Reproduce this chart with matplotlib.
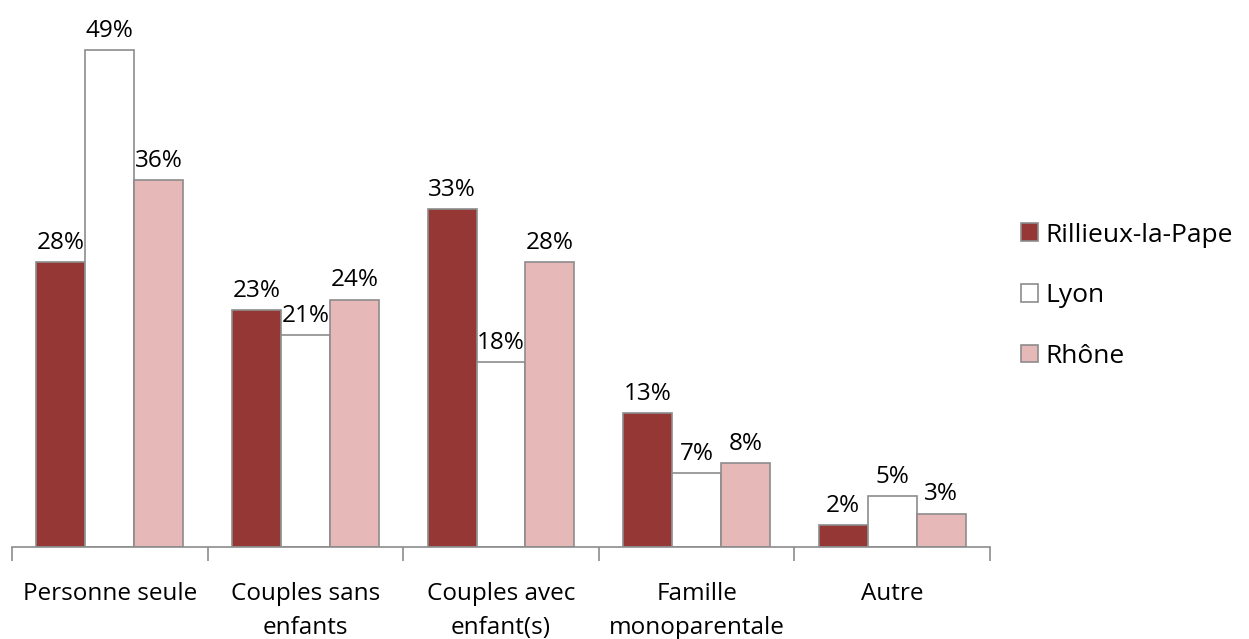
import numpy as np
import matplotlib.pyplot as plt

## Data
categories = ["Personne seule", "Couples sans\nenfants", "Couples avec\nenfant(s)",
              "Famille\nmonoparentale", "Autre"]
rillieux = [28.1, 23.4, 33.3, 13.2, 2.2]
lyon     = [49.0, 20.9, 18.2, 7.3, 5.0]
rhone    = [36.2, 24.4, 28.1, 8.3, 3.3]
series_names = ["Rillieux-la-Pape", "Lyon", "Rhône"]

colors = ["#953735", "#FFFFFF", "#E6B9B8"]
edge = "#8C8C8C"

plt.rcParams['font.family'] = ['Open Sans', 'DejaVu Sans']

fig = plt.figure(figsize=(12.49, 6.39), dpi=100)
ax = fig.add_axes([12/1249, 1-547/639, (990-12)/1249, (547-40)/639])

x = np.arange(len(categories))
w = 0.25
for i, (vals, name, c) in enumerate(zip([rillieux, lyon, rhone], series_names, colors)):
	bars = ax.bar(x + (i-1)*w, vals, w, color=c, edgecolor=edge, linewidth=1.2, label=name)
	for b, v in zip(bars, vals):
		ax.text(b.get_x()+b.get_width()/2, v+0.7, "%.0f%%" % v,
			ha="center", va="bottom", fontsize=17.5, color="black")

## Axes
ax.set_xlim(-0.5, len(categories)-0.5)
ax.set_ylim(0, 50)
for s in ["left", "right", "top"]:
	ax.spines[s].set_visible(False)
ax.spines["bottom"].set_color(edge)
ax.spines["bottom"].set_linewidth(1.2)
ax.set_yticks([])

ax.set_xticks(np.arange(len(categories)+1)-0.5)
ax.set_xticklabels([])
ax.tick_params(axis="x", which="major", length=10, color=edge, width=1.2)
ax.set_xticks(x, minor=True)
ax.set_xticklabels(categories, minor=True, fontsize=17.5, linespacing=1.55)
ax.tick_params(axis="x", which="minor", length=0, pad=25)

## Legend
leg = fig.legend(loc="upper left", bbox_to_anchor=(1010/1249, 1-212/639),
	frameon=False, fontsize=19, labelspacing=1.35, handlelength=0.65,
	handleheight=0.65, handletextpad=0.3, borderaxespad=0)

fig.savefig("out.png", dpi=100)
